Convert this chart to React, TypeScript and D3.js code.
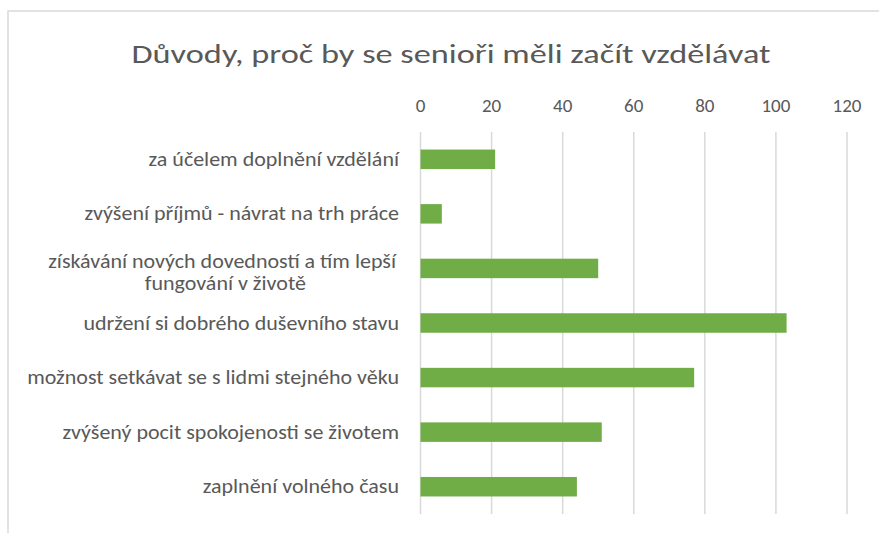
import { useEffect, useRef } from "react";
import * as d3 from "d3";

const categories = [
  "za účelem doplnění vzdělání",
  "zvýšení příjmů - návrat na trh práce",
  "získávání nových dovedností a tím lepší|fungování v životě",
  "udržení si dobrého duševního stavu",
  "možnost setkávat se s lidmi stejného věku",
  "zvýšený pocit spokojenosti se životem",
  "zaplnění volného času",
];
const values = [21, 6, 50, 103, 77, 51, 44];
const xTicks = [0, 20, 40, 60, 80, 100, 120];
const title = "Důvody, proč by se senioři měli začít vzdělávat";

export default function App() {
  const svgRef = useRef<SVGSVGElement>(null);

  useEffect(() => {
    if (!svgRef.current) return;
    const svg = d3.select(svgRef.current);
    svg.selectAll("*").remove();

    const width = 879;
    const height = 533;
    const font = "Carlito, Calibri, Lato, sans-serif";
    const textColor = "#595959";
    // Calibri in the original is rendered wider than Lato, stretch a bit
    const labelStretch = 1.1;
    const titleStretch = 1.27;

    svg.attr("width", width).attr("height", height);

    // chart frame
    svg
      .append("rect")
      .attr("x", 8)
      .attr("y", 11)
      .attr("width", width)
      .attr("height", height)
      .attr("fill", "#fff")
      .attr("stroke", "#d9d9d9")
      .attr("stroke-width", 1.5);

    const xScale = d3.scaleLinear().domain([0, 120]).range([420.5, 847]);
    const yScale = d3
      .scaleBand<number>()
      .domain(d3.range(categories.length))
      .range([132, 514])
      .paddingInner(0.643)
      .paddingOuter(0.3215);

    svg
      .append("text")
      .attr("transform", `translate(451,62.5) scale(${titleStretch},1)`)
      .attr("text-anchor", "middle")
      .attr("fill", textColor)
      .attr("font-family", font)
      .attr("font-weight", 300)
      .attr("font-size", "27px")
      .text(title);

    // Grid lines
    svg
      .append("g")
      .selectAll("line")
      .data(xTicks)
      .join("line")
      .attr("x1", (d) => xScale(d))
      .attr("x2", (d) => xScale(d))
      .attr("y1", 132)
      .attr("y2", 514)
      .attr("stroke", "#d9d9d9")
      .attr("stroke-width", 1.5);

    // Tick labels (top)
    svg
      .append("g")
      .selectAll("text")
      .data(xTicks)
      .join("text")
      .attr("x", (d) => xScale(d))
      .attr("y", 111.7)
      .attr("text-anchor", "middle")
      .attr("fill", textColor)
      .attr("font-family", font)
      .attr("font-size", "19px")
      .text((d) => d);

    // Bars
    svg
      .append("g")
      .selectAll("rect")
      .data(values)
      .join("rect")
      .attr("x", xScale(0))
      .attr("y", (_, i) => yScale(i)!)
      .attr("width", (d) => xScale(d) - xScale(0))
      .attr("height", yScale.bandwidth())
      .attr("fill", "#70ad47");

    // Category labels
    const labels = svg.append("g");
    categories.forEach((d, i) => {
      const cy = yScale(i)! + yScale.bandwidth() / 2;
      const lines = d.split("|");
      const place = (txt: string, x: number, y: number) =>
        labels
          .append("text")
          .attr("transform", `translate(${x},${y}) scale(${labelStretch},1)`)
          .attr("text-anchor", "end")
          .attr("fill", textColor)
          .attr("font-family", font)
          .attr("font-size", "20px")
          .text(txt);
      if (lines.length === 1) {
        place(d, 399, cy + 6.6);
      } else {
        place(lines[0], 396, cy - 0.5);
        place(lines[1], 306, cy + 22);
      }
    });
  }, []);

  return (
    <svg
      ref={svgRef}
      style={{ position: "absolute", left: 0, top: 0, display: "block" }}
    />
  );
}
